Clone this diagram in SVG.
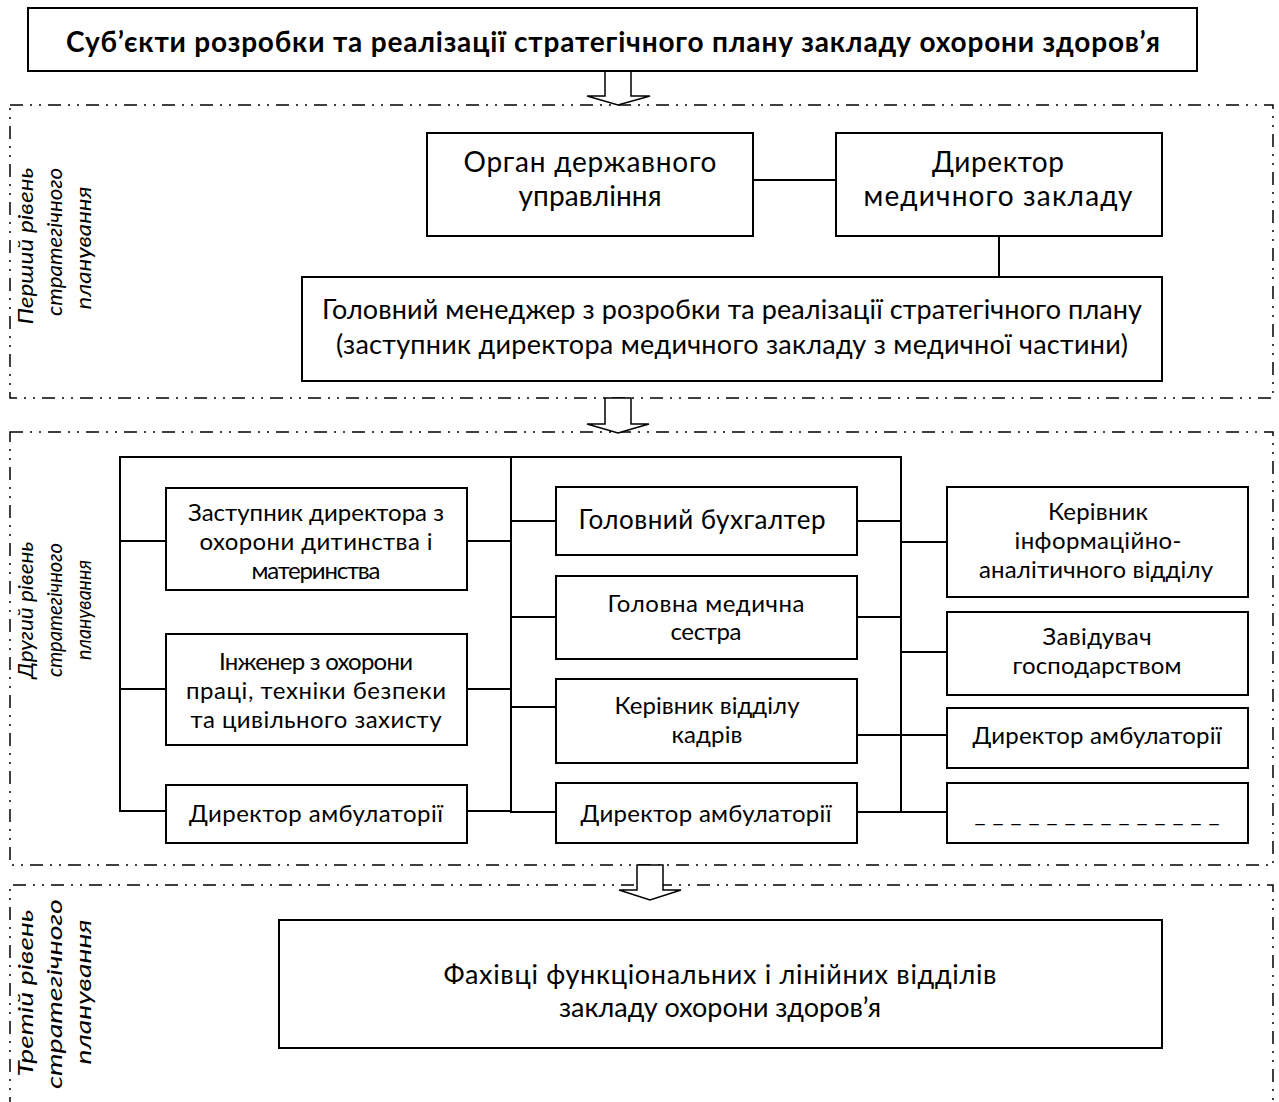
<svg xmlns="http://www.w3.org/2000/svg" width="1279" height="1102" viewBox="0 0 1279 1102">
<style>
  .box{fill:#fff;stroke:#000;stroke-width:2}
  .panel{fill:none;stroke:#000;stroke-width:1.5;stroke-dasharray:13 7 2 7 2 7}
  .arrow{fill:#fff;stroke:#000;stroke-width:1.5}
  .conn line{stroke:#000;stroke-width:2}
  text{font-family:Lato,"Liberation Sans",sans-serif;fill:#000;text-anchor:middle}
  .t28{font-size:28px}
  .t27{font-size:27px}
  .t26{font-size:26px}
  .t24{font-size:24px}
  .title{font-size:28px;font-weight:bold}
  .side{font-size:22px;font-style:italic}
</style>
<rect width="1279" height="1102" fill="#fff"/>

<!-- panels -->
<g id="panel1">
  <rect class="panel" x="10" y="105" width="1263" height="293"/>
  <text class="side" transform="translate(33,246) rotate(-90)" textLength="157" lengthAdjust="spacingAndGlyphs">Перший рівень</text>
  <text class="side" transform="translate(62,242) rotate(-90)" textLength="148" lengthAdjust="spacingAndGlyphs">стратегічного</text>
  <text class="side" transform="translate(91,248) rotate(-90)" textLength="123" lengthAdjust="spacingAndGlyphs">планування</text>
</g>
<g id="panel2">
  <rect class="panel" x="10" y="432" width="1263" height="433"/>
  <text class="side" transform="translate(33,610) rotate(-90)" textLength="137" lengthAdjust="spacingAndGlyphs">Другий рівень</text>
  <text class="side" transform="translate(62,610) rotate(-90)" textLength="134" lengthAdjust="spacingAndGlyphs">стратегічного</text>
  <text class="side" transform="translate(91,610) rotate(-90)" textLength="100" lengthAdjust="spacingAndGlyphs">планування</text>
</g>
<g id="panel3">
  <path class="panel" d="M10,1110 V885 H1273 V1110"/>
  <text class="side" transform="translate(33,993) rotate(-90)" textLength="167" lengthAdjust="spacingAndGlyphs">Третій рівень</text>
  <text class="side" transform="translate(62,994) rotate(-90)" textLength="190" lengthAdjust="spacingAndGlyphs">стратегічного</text>
  <text class="side" transform="translate(91,992) rotate(-90)" textLength="145" lengthAdjust="spacingAndGlyphs">планування</text>
</g>

<!-- connectors -->
<g id="connectors" class="conn">
  <line x1="753" y1="180" x2="836" y2="180"/>
  <line x1="999" y1="236" x2="999" y2="277"/>
  <line x1="120" y1="457" x2="902" y2="457"/>
  <line x1="120" y1="456" x2="120" y2="812"/>
  <line x1="511" y1="456" x2="511" y2="813"/>
  <line x1="901" y1="456" x2="901" y2="813"/>
  <line x1="120" y1="541" x2="166" y2="541"/>
  <line x1="467" y1="541" x2="511" y2="541"/>
  <line x1="120" y1="689" x2="166" y2="689"/>
  <line x1="467" y1="689" x2="511" y2="689"/>
  <line x1="120" y1="811" x2="166" y2="811"/>
  <line x1="467" y1="811" x2="511" y2="811"/>
  <line x1="511" y1="521" x2="556" y2="521"/>
  <line x1="857" y1="521" x2="901" y2="521"/>
  <line x1="511" y1="617" x2="556" y2="617"/>
  <line x1="857" y1="617" x2="901" y2="617"/>
  <line x1="511" y1="707" x2="556" y2="707"/>
  <line x1="857" y1="735" x2="901" y2="735"/>
  <line x1="511" y1="812" x2="556" y2="812"/>
  <line x1="857" y1="812" x2="901" y2="812"/>
  <line x1="901" y1="542" x2="947" y2="542"/>
  <line x1="901" y1="652" x2="947" y2="652"/>
  <line x1="901" y1="735" x2="947" y2="735"/>
  <line x1="901" y1="812" x2="947" y2="812"/>
</g>

<!-- arrows -->
<g id="arrows">
  <polygon class="arrow" points="605,71 631,71 631,96 650,96 618,105 587,96 605,96"/>
  <polygon class="arrow" points="605,398 631,398 631,424 649,424 618,433 587,424 605,424"/>
  <polygon class="arrow" points="637,865 663,865 663,890 681,890 650,900 619,890 637,890"/>
</g>

<!-- nodes -->
<g id="title">
  <rect class="box" x="28" y="8" width="1169" height="63"/>
  <text class="title" x="613" y="52" textLength="1094">Суб’єкти розробки та реалізації стратегічного плану закладу охорони здоров’я</text>
</g>
<g id="organ">
  <rect class="box" x="427" y="133" width="326" height="103"/>
  <text class="t28" x="590" y="172" textLength="253">Орган державного</text>
  <text class="t28" x="590" y="206" textLength="143">управління</text>
</g>
<g id="director">
  <rect class="box" x="836" y="133" width="326" height="103"/>
  <text class="t28" x="998" y="172" textLength="132">Директор</text>
  <text class="t28" x="998" y="206" textLength="269">медичного закладу</text>
</g>
<g id="manager">
  <rect class="box" x="302" y="277" width="860" height="104"/>
  <text class="t27" x="732" y="319" textLength="820">Головний менеджер з розробки та реалізації стратегічного плану</text>
  <text class="t27" x="732" y="354" textLength="792">(заступник директора медичного закладу з медичної частини)</text>
</g>

<g id="l1">
  <rect class="box" x="166" y="488" width="301" height="102"/>
  <text class="t24" x="316" y="521" textLength="256">Заступник директора з</text>
  <text class="t24" x="316" y="550" textLength="233">охорони дитинства і</text>
  <text class="t24" x="316" y="579" textLength="129">материнства</text>
</g>
<g id="l2">
  <rect class="box" x="166" y="634" width="301" height="111"/>
  <text class="t24" x="316" y="670" textLength="194">Інженер з охорони</text>
  <text class="t24" x="316" y="699" textLength="260">праці, техніки безпеки</text>
  <text class="t24" x="316" y="728" textLength="251">та цивільного захисту</text>
</g>
<g id="l3">
  <rect class="box" x="166" y="785" width="301" height="58"/>
  <text class="t24" x="316" y="822" textLength="254">Директор амбулаторії</text>
</g>

<g id="m1">
  <rect class="box" x="556" y="487" width="301" height="68"/>
  <text class="t26" x="702" y="529" textLength="247">Головний бухгалтер</text>
</g>
<g id="m2">
  <rect class="box" x="556" y="576" width="301" height="83"/>
  <text class="t24" x="706" y="612" textLength="197">Головна медична</text>
  <text class="t24" x="706" y="640" textLength="71">сестра</text>
</g>
<g id="m3">
  <rect class="box" x="556" y="679" width="301" height="84"/>
  <text class="t24" x="707" y="714" textLength="185">Керівник відділу</text>
  <text class="t24" x="707" y="743" textLength="71">кадрів</text>
</g>
<g id="m4">
  <rect class="box" x="556" y="783" width="301" height="60"/>
  <text class="t24" x="706" y="822" textLength="251">Директор амбулаторії</text>
</g>

<g id="r1">
  <rect class="box" x="947" y="487" width="301" height="110"/>
  <text class="t24" x="1098" y="520" textLength="100">Керівник</text>
  <text class="t24" x="1098" y="549" textLength="167">інформаційно-</text>
  <text class="t24" x="1096" y="578" textLength="234">аналітичного відділу</text>
</g>
<g id="r2">
  <rect class="box" x="947" y="612" width="301" height="83"/>
  <text class="t24" x="1097" y="645" textLength="109">Завідувач</text>
  <text class="t24" x="1097" y="674" textLength="169">господарством</text>
</g>
<g id="r3">
  <rect class="box" x="947" y="708" width="301" height="60"/>
  <text class="t24" x="1097" y="744" textLength="249">Директор амбулаторії</text>
</g>
<g id="r4">
  <rect class="box" x="947" y="783" width="301" height="60"/>
  <text class="t24" x="1097" y="822" textLength="245">_ _ _ _ _ _ _ _ _ _ _ _ _ _</text>
</g>

<g id="specialists">
  <rect class="box" x="279" y="920" width="883" height="128"/>
  <text class="t27" x="720" y="984" textLength="553">Фахівці функціональних і лінійних відділів</text>
  <text class="t27" x="720" y="1017" textLength="322">закладу охорони здоров’я</text>
</g>
</svg>
